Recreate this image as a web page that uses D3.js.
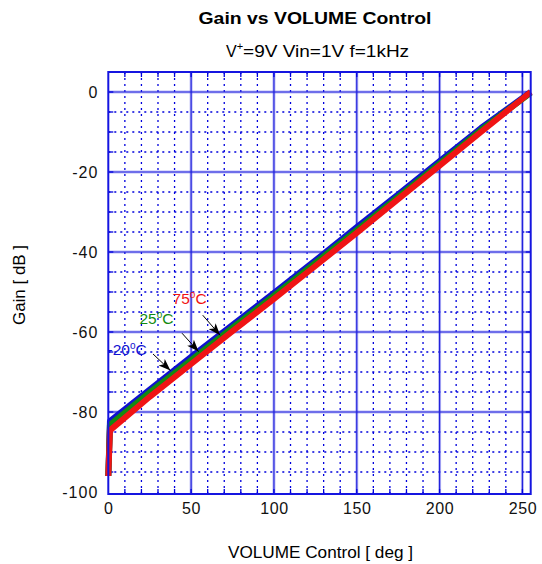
<!DOCTYPE html>
<html><head><meta charset="utf-8">
<script src="https://cdn.jsdelivr.net/npm/d3@7"></script>
<style>body{margin:0;background:#fff}svg{display:block}text{font-family:"Liberation Sans",Arial,sans-serif}</style>
</head><body><svg id="c" width="542" height="564"></svg>
<script>
const xTicks=[0,50,100,150,200,250];
const yTicks=[0,-20,-40,-60,-80,-100];
const volume=[0,1,25,50,75,100,125,150,175,200,225,255];
const gainM20=[-96,-82.3,-74.4,-66.2,-58.2,-50.2,-42.1,-33.8,-25.6,-17.3,-9.0,0];
const gain25=[-96,-83.2,-75.1,-67.0,-58.9,-50.9,-42.7,-34.5,-26.2,-17.9,-9.5,-0.2];
const gain75=[-96,-84.6,-76.2,-68.0,-59.8,-51.7,-43.5,-35.2,-26.8,-18.4,-10.0,0];
const series=[{name:"-20",vals:gainM20,color:"#1010d0"},{name:"25",vals:gain25,color:"#128a12"},{name:"75",vals:gain75,color:"#f01414"}];
const labels=[{t:"-20",sup:"o",u:"C",x:-0.5,y:-65.8,color:"#1010d0",ax:[27,-65.5],ah:[37.5,-69.6]},
              {t:"25",sup:"o",u:"C",x:18.8,y:-58.1,color:"#128a12",ax:[44.5,-60.3],ah:[54.5,-64.9]},
              {t:"75",sup:"o",u:"C",x:38.8,y:-53.1,color:"#f01414",ax:[57,-55.8],ah:[67.5,-60.8]}];

const svg=d3.select("#c");
const L=108.3,R=530.7,T=72,B=494;
const x=d3.scaleLinear().domain([0,255]).range([L,R]);
const y=d3.scaleLinear().domain([-100.5,5]).range([B,T]);
const gridC="#0000dd";

// minor dotted grid
const xMinor=d3.range(10,255,10).filter(v=>v%50!==0);
const yMinor=d3.range(-95,5,5).filter(v=>v%20!==0);
const g=svg.append("g");
g.selectAll(".vx").data(xMinor).join("line").attr("x1",d=>x(d)).attr("x2",d=>x(d)).attr("y1",T).attr("y2",B)
 .attr("stroke",gridC).attr("stroke-width",1.3).attr("stroke-dasharray","2,4");
g.selectAll(".hy").data(yMinor).join("line").attr("x1",L).attr("x2",R).attr("y1",d=>y(d)).attr("y2",d=>y(d))
 .attr("stroke",gridC).attr("stroke-width",1.3).attr("stroke-dasharray","2,4");
// major grid
const xMaj=xTicks.filter(v=>v>0), yMaj=yTicks.filter(v=>v>-100);
[[3,"rgba(60,60,230,0.35)"],[1.2,"#2222dd"]].forEach(([w,c])=>{
 g.append("g").selectAll("line").data(xMaj).join("line").attr("x1",d=>x(d)).attr("x2",d=>x(d)).attr("y1",T).attr("y2",B).attr("stroke",c).attr("stroke-width",w);
 g.append("g").selectAll("line").data(yMaj).join("line").attr("x1",L).attr("x2",R).attr("y1",d=>y(d)).attr("y2",d=>y(d)).attr("stroke",c).attr("stroke-width",w);
});
// inner ticks
const xAll=d3.range(10,255,10), yAll=d3.range(-95,5,5);
const tk=svg.append("g").attr("stroke",gridC).attr("stroke-width",1.3);
tk.selectAll(".a").data(xAll).join("line").attr("x1",d=>x(d)).attr("x2",d=>x(d)).attr("y1",B).attr("y2",B-5);
tk.selectAll(".b").data(xAll).join("line").attr("x1",d=>x(d)).attr("x2",d=>x(d)).attr("y1",T).attr("y2",T+5);
tk.selectAll(".c").data(yAll).join("line").attr("x1",L).attr("x2",L+5).attr("y1",d=>y(d)).attr("y2",d=>y(d));
tk.selectAll(".d").data(yAll).join("line").attr("x1",R).attr("x2",R-5).attr("y1",d=>y(d)).attr("y2",d=>y(d));

// curves
const line=d3.line().x(d=>x(d[0])).y(d=>y(d[1]));
series.forEach(s=>{
 svg.append("path").datum(volume.map((v,i)=>[v,s.vals[i]])).attr("d",line).attr("fill","none")
  .attr("stroke",s.color).attr("stroke-width",6).attr("stroke-linejoin","round");
});

// frame
svg.append("rect").attr("x",L).attr("y",T).attr("width",R-L).attr("height",B-T).attr("fill","none").attr("stroke","#1515e0").attr("stroke-width",2);

// axes labels
const fmt=d=>String(d);
svg.append("g").attr("transform",`translate(0,${B})`).call(d3.axisBottom(x).tickValues(xTicks).tickFormat(fmt).tickSize(0).tickPadding(9))
 .call(a=>{a.select(".domain").remove();a.selectAll("text").attr("font-size",16).attr("letter-spacing",0.6).attr("fill","#111").attr("font-family","Liberation Sans, Arial");});
svg.append("g").attr("transform",`translate(${L},0)`).call(d3.axisLeft(y).tickValues(yTicks).tickFormat(fmt).tickSize(0).tickPadding(10))
 .call(a=>{a.select(".domain").remove();a.selectAll("text").attr("font-size",16).attr("letter-spacing",1).attr("fill","#111").attr("font-family","Liberation Sans, Arial");});

// titles
svg.append("text").attr("x",315).attr("y",24).attr("text-anchor","middle").attr("font-weight","bold").attr("font-size",17)
 .attr("textLength",233).attr("lengthAdjust","spacingAndGlyphs").text("Gain vs VOLUME Control");
const st=svg.append("text").attr("x",226).attr("y",57).attr("font-size",16);
st.append("tspan").text("V");
st.append("tspan").attr("dy",-7).attr("font-size",11).text("+");
st.append("tspan").attr("dy",7).attr("textLength",166).attr("lengthAdjust","spacingAndGlyphs").text("=9V Vin=1V f=1kHz");
svg.append("text").attr("x",320.5).attr("y",557.7).attr("text-anchor","middle").attr("font-size",16)
 .attr("textLength",185).attr("lengthAdjust","spacingAndGlyphs").text("VOLUME Control [ deg ]");
svg.append("text").attr("transform","translate(25,285) rotate(-90)").attr("text-anchor","middle").attr("font-size",16)
 .attr("textLength",80).attr("lengthAdjust","spacingAndGlyphs").text("Gain [ dB ]");

// annotations
svg.append("defs").append("marker").attr("id","ah").attr("viewBox","0 0 12 10").attr("refX",12).attr("refY",5)
 .attr("markerWidth",13).attr("markerHeight",10).attr("markerUnits","userSpaceOnUse").attr("orient","auto")
 .append("path").attr("d","M0,0.5 L12,5 L0,9.5 L3,5 Z").attr("fill","#000");
labels.forEach(l=>{
 const t=svg.append("text").attr("x",x(l.x)).attr("y",y(l.y)).attr("fill",l.color).attr("font-size",15.5);
 t.append("tspan").text(l.t);
 t.append("tspan").attr("dy",-6).attr("font-size",10).text(l.sup);
 t.append("tspan").attr("dy",6).text(l.u);
 svg.append("line").attr("x1",x(l.ax[0])).attr("y1",y(l.ax[1])).attr("x2",x(l.ah[0])).attr("y2",y(l.ah[1]))
  .attr("stroke","#000").attr("stroke-width",1).attr("marker-end","url(#ah)");
});
</script></body></html>
